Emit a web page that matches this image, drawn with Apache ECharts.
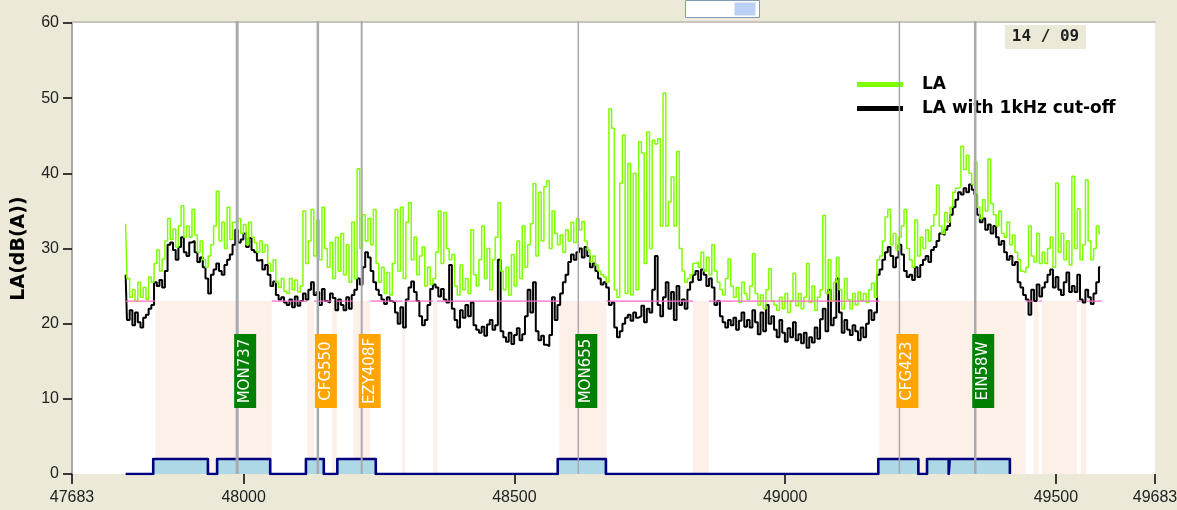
<!DOCTYPE html>
<html><head><meta charset="utf-8">
<script src="https://cdn.jsdelivr.net/npm/echarts@6/dist/echarts.min.js"></script>
<style>html,body{margin:0;padding:0;background:#ECE9D8;}#c{width:1177px;height:510px;}</style>
</head><body><div id="c"></div>
<script>
// sampling grid of the two level series (seconds)
const T0 = 47782, DT = 5;
// LA (green)
const laValues = [
33.3,26,23.5,24.5,23,25.5,23.5,24.8,23.2,26.2,
25.5,28,29.8,27,28.6,31,34,31.2,32.6,30.2,
33,35.7,31.5,33,31.5,35.2,31.8,29.5,31,28.5,
27.5,29,30.5,33,37.6,31,33.5,30,35.5,31.2,
33.5,33.5,34,32,33.2,30.5,33.5,31.5,30.8,29.5,
31,29.5,30.5,28,27,28.5,25.5,24.8,26,24.3,
24,26,24.5,25.8,24.2,25,35,28,31,35.2,
29,33.8,28.5,35.5,30,27.5,30.8,26,31.5,27,
32,26.5,30.5,25.5,33.5,26,40.6,30,34.5,31,
34,30.5,35.2,28,25.5,27.5,24,26.8,23.8,28,
35.2,27,35.5,26,33.5,36.1,28.5,31.5,26.5,29,
30.2,25,27.5,25.2,26,29.5,35,28,34.8,30,
28.5,29.2,25,23.8,27.8,24.5,26,24,32.5,26.5,
25,28.5,33,26,30,24.5,28.5,31.5,36.1,27,
24.5,27.5,23.8,29.2,25,31,26,33,27.5,30.5,
33.3,38.6,29,37.5,31,38.2,39,30,35,32,
30.5,31.8,29.5,32.5,31,33.5,30.8,34,32.5,33.6,
31,29.8,28.2,29,27.8,27,26.5,26.2,25.5,48.6,
46,24.5,23.5,38.7,45.1,24,41.3,23.8,40,24.5,
44.2,42.7,28,45.5,30,44.4,43.9,44.6,33,50.7,
33,36.2,39.5,33,42.9,30,27,25.5,26,26.5,
28,28.2,27.5,29.5,27,28.8,26.5,30.5,27,25.5,
24.5,23.8,26,28.6,25,23.5,24.8,22.8,25.5,24,
23.2,25,29.3,24,22.5,23.8,22,24.5,27.3,23,
22.5,21.8,23.5,22,24,21.5,23,26.7,22.4,24,
22,23.5,28,22.8,25,21.8,23.5,24.5,34.4,24,
28.5,23,25.5,28.8,24.5,22,26,23.2,22,24,
22.5,24.2,23,24,22.8,24.5,25.4,23.5,28.5,29,
31,34.2,35.2,30.5,32,29.8,31.5,33,35.2,30,
28.5,27.5,33.8,29,31.5,30,32.5,31,33,34.5,
38.4,33,32,34.8,33.5,35.5,37.5,38,38.2,43.6,
40.5,42.4,40,38.5,41.5,35.5,34,36.5,35,41.9,
36,34.5,33,35,32,31.5,33.5,30.5,31.8,29.5,
28.5,27,26.8,27.5,33,29,28.2,32,28,29.5,
28,30,31.5,27.5,38.7,29.5,32,28.5,31,27.8,
39.6,30,35.3,28.5,30.5,39.1,31,28.5,30,33,
32];
// LA with 1kHz cut-off (black)
const laCutValues = [
26.5,20.5,21.8,19.8,21.5,20.2,19.5,20.8,21.2,22,
22.5,25.5,25,25.8,24.8,27,30.5,30.8,29.8,28.5,
30.2,31.5,29.5,29,30.8,31,29.5,28.2,28.8,27.5,
26,24,26.5,27.2,28,27,26.5,27.8,28.5,29.2,
30.5,32.5,30.8,31.2,32,30.2,31.4,29.8,29.5,28.4,
28.5,27.2,27.8,26.5,25,25.6,23.8,23.2,23.5,22.8,
22.5,23.2,22.2,23.6,22.4,23,24,23.2,24.5,25.5,
23.8,24.2,22.5,24.6,23,22.8,24,23.4,21.8,23.2,
22.5,21.8,23.5,22,23.8,24.5,26,25.2,27.5,29.5,
28.8,27,25.5,24.5,23.8,23.2,22.6,23.5,23,22.8,
21.5,20,22.2,19.5,23.2,24.8,25.6,24.2,23,21,
19.8,20.5,22.5,24.6,25.2,24.8,23.6,24.6,23.2,22.8,
27.8,22,20.5,19.5,21.8,20.8,22.5,21,22.8,19.8,
19.2,18.8,19.6,18.4,19.9,20.5,19.2,19.8,28.5,19,
18.2,17.6,18.8,17.3,18.5,19.4,17.8,18.6,21,24.5,
21.5,25.5,19,17.8,18.4,17.2,17,18.5,23.5,20.5,
22.5,24,25.5,26.5,28.2,29.2,28.5,29.5,30,28.8,
30.2,29,27.5,28,27,26,25.2,25.5,24.8,22.5,
22.8,19.5,18.2,19,20,20.8,21.2,20.4,21.5,20.8,
21,22.4,20.2,22,21.5,24.5,29,22.5,21,23.5,
25.5,22,24.2,20.5,25,22.5,23.2,22,24.5,25.5,
26.5,27,25.8,27.2,26.5,25,26,24.8,22.5,23,
21,20.2,19.5,20.5,19.8,20.8,19.2,20.4,21.5,19.6,
20.5,19.5,21.8,20.2,18.6,21.5,19,22.5,20,21,
19.2,18.2,20.5,18.8,17.6,19.4,18.2,20.2,17.8,18.6,
17.4,18.8,16.8,18.2,17.5,19.5,18,20.6,22,19,
24.5,19.8,20.8,26,21.5,18.8,20.5,19.2,18.5,19.8,
19,17.8,19.5,18.2,20,21.8,20.5,21.5,26.5,27.2,
28.5,29.5,30.2,29,27.5,28.8,30.5,29.2,27,26.2,
26.5,25.8,27.5,26.2,27.8,28.5,29,28.2,29.8,30.2,
31,32,31.8,32.5,33,34.5,35.5,36.5,37.5,37.2,
38,37.5,38.5,37.8,37.2,34.5,33.5,34,32.5,33.2,
32,33,31.5,30.5,31,29.5,28.5,29,27.8,28.2,
25.5,24.8,23.8,23.2,21.2,24.5,23,25.2,23.6,24.8,
25.5,26.5,27.2,24.8,26.2,24.5,23.8,25.5,26.8,24.2,
25,24.2,26.5,23.2,22.8,24.5,23.5,22.6,24,25.5,
27.5];
const xTickValues = [47683, 48000, 48500, 49000, 49500, 49683];
const xMin = 47683, xMax = 49683;
const yMin = 0, yMax = 60, yStep = 10;
const threshold = 23;
// periods above threshold (shaded)
const aboveZones = [[47837,48052],[48117,48130],[48163,48172],[48202,48234],[48293,48298],[48350,48357],
  [48583,48670],[48830,48859],[49174,49444],[49459,49468],[49474,49539],[49546,49556]];
const thresholdStart = 47782, thresholdEnd = 49585;
// flight events
const flightTimes = [47988, 48137, 48218, 48618, 49211, 49351];
const flightLabels = ['MON737','CFG550','EZY408F','MON655','CFG423','EIN58W'];
const flightLabelLevel = 13.7;
// event detection step signal
const stepTimes  = [47782,47833,47833,47934,47934,47951,47951,48049,48049,48115,48115,48148,48148,48173,48173,48244,48244,48580,48580,48669,48669,49172,49172,49246,49246,49262,49262,49302,49302,49304,49304,49415,49415];
const stepLevels = [0,0,2,2,0,0,2,2,0,0,2,2,0,0,2,2,0,0,2,2,0,0,2,2,0,0,2,2,0,0,2,2,0];
const dateLabel = '14 / 09';

// styles (kept apart from data)
const flightColors = ['#008000','#FFA500','#FFA500','#008000','#FFA500','#008000'];
const flightLineWidths = [3,2.5,2,1.5,1.5,2.5];

const laData = laValues.map((v,i)=>[T0+i*DT, v]);
const laCutData = laCutValues.map((v,i)=>[T0+i*DT, v]);
const stepData = stepTimes.map((t,i)=>[t, stepLevels[i]]);
const thrSegs = [];
let prev = thresholdStart;
aboveZones.forEach(z=>{ thrSegs.push([prev, z[0]]); prev = z[1]; });
thrSegs.push([prev, thresholdEnd]);

const chart = echarts.init(document.getElementById('c'), null, {renderer:'canvas'});
const tickFont = {fontFamily:'Liberation Sans', fontSize:16, color:'#222'};
chart.setOption({
  animation:false,
  backgroundColor:'#ECE9D8',
  grid:{left:72,right:22,top:23,bottom:36,show:true,backgroundColor:'#FFFFFF',borderWidth:0,
        containLabel:false, outerBoundsMode:'none'},
  legend:{
    orient:'vertical', left:852, top:71, itemWidth:46, itemHeight:5, itemGap:7,
    icon:'rect', selectedMode:false,
    textStyle:{fontFamily:'DejaVu Sans', fontWeight:'bold', fontSize:17, color:'#000', padding:[0,0,0,14]},
    data:[{name:'LA'},{name:'LA with 1kHz cut-off'}]
  },
  xAxis:[{
    type:'value', min:xMin, max:xMax, position:'bottom',
    name:'time', nameLocation:'middle', nameGap:15,
    nameTextStyle:{fontFamily:'DejaVu Sans', fontWeight:'bold', fontSize:18, color:'#000', verticalAlign:'top'},
    axisLine:{show:false},
    axisTick:{show:true, customValues:xTickValues, length:10, lineStyle:{color:'#000',width:1.5}},
    axisLabel:Object.assign({customValues:xTickValues, margin:16, showMinLabel:true, showMaxLabel:true,
      formatter:function(v){return String(v);}}, tickFont),
    splitLine:{show:false}
  },{
    type:'value', min:xMin, max:xMax, position:'top', offset:1,
    axisLine:{show:true, lineStyle:{color:'#C8C4B8', width:2}},
    axisTick:{show:false}, axisLabel:{show:false}, splitLine:{show:false}
  }],
  yAxis:{
    type:'value', min:yMin, max:yMax, interval:yStep,
    name:'LA(dB(A))', nameLocation:'middle', nameGap:43, nameRotate:90,
    nameTextStyle:{fontFamily:'DejaVu Sans', fontWeight:'bold', fontSize:19, color:'#000'},
    axisLine:{show:true, lineStyle:{color:'#A8A8A8', width:2}},
    axisTick:{show:true, length:9, lineStyle:{color:'#000', width:1.5}},
    axisLabel:Object.assign({margin:13}, tickFont),
    splitLine:{show:false}
  },
  series:[
    { type:'custom', name:'zones', z:1, data:aboveZones, encode:{x:[0,1]},
      renderItem:function(params, api){
        const p1 = api.coord([api.value(0), threshold]);
        const p2 = api.coord([api.value(1), 0]);
        return {type:'rect', shape:{x:p1[0], y:p1[1], width:p2[0]-p1[0], height:p2[1]-p1[1]}, style:{fill:'#FDF0E9'}};
      }
    },
    { type:'line', name:'events', z:2, data:stepData, symbol:'none',
      lineStyle:{color:'#000080', width:2.6, join:'round'},
      areaStyle:{color:'#ADD8E6', opacity:1}, silent:true },
    { type:'line', name:'LA with 1kHz cut-off', z:3, data:laCutData, symbol:'none', step:'middle',
      itemStyle:{color:'#000000'}, lineStyle:{color:'#000000', width:2} },
    { type:'line', name:'LA', z:4, data:laData, symbol:'none', step:'middle',
      itemStyle:{color:'#80FF00'}, lineStyle:{color:'#80FF00', width:1.5} },
    { type:'custom', name:'threshold', z:5, data:thrSegs, encode:{x:[0,1]},
      renderItem:function(params, api){
        const p1 = api.coord([api.value(0), threshold]);
        const p2 = api.coord([api.value(1), threshold]);
        return {type:'line', shape:{x1:p1[0], y1:p1[1], x2:p2[0], y2:p2[1]}, style:{stroke:'#FF66CC', lineWidth:1.2}};
      }
    },
    { type:'custom', name:'flights', z:6, data:flightTimes.map(t=>[t, flightLabelLevel]), encode:{x:0,y:1},
      renderItem:function(params, api){
        const i = params.dataIndex;
        const t = api.value(0);
        const top = api.coord([t, yMax]);
        const bot = api.coord([t, yMin]);
        const c = api.coord([t, api.value(1)]);
        const x = top[0];
        return {type:'group', children:[
          {type:'line', shape:{x1:x, y1:top[1]-2, x2:x, y2:bot[1]}, style:{stroke:'#A9A9B0', lineWidth:flightLineWidths[i]}},
          {type:'rect', shape:{x:x-3, y:c[1]-37, width:22, height:74}, style:{fill:flightColors[i]}},
          {type:'text', x:x+8, y:c[1], rotation:Math.PI/2,
            style:{text:flightLabels[i], fill:'#FFFFFF', font:'15px "DejaVu Sans"', align:'center', verticalAlign:'middle'}}
        ]};
      }
    }
  ],
  graphic:[
    {type:'group', left:1005, top:25, children:[
      {type:'rect', shape:{x:0,y:0,width:81,height:24}, style:{fill:'#ECE9D8'}},
      {type:'text', x:40.5, y:12, style:{text:dateLabel, font:'bold 16px "DejaVu Sans Mono"', fill:'#222', align:'center', verticalAlign:'middle'}}
    ]},
    {type:'group', left:685, top:0, children:[
      {type:'rect', shape:{x:0,y:-2,width:74,height:17}, style:{fill:'#FFFFFF', stroke:'#7F9DB9', lineWidth:1}},
      {type:'rect', shape:{x:49,y:0,width:21,height:13}, style:{fill:'#BCD0F4'}}
    ]}
  ]
});
</script></body></html>
